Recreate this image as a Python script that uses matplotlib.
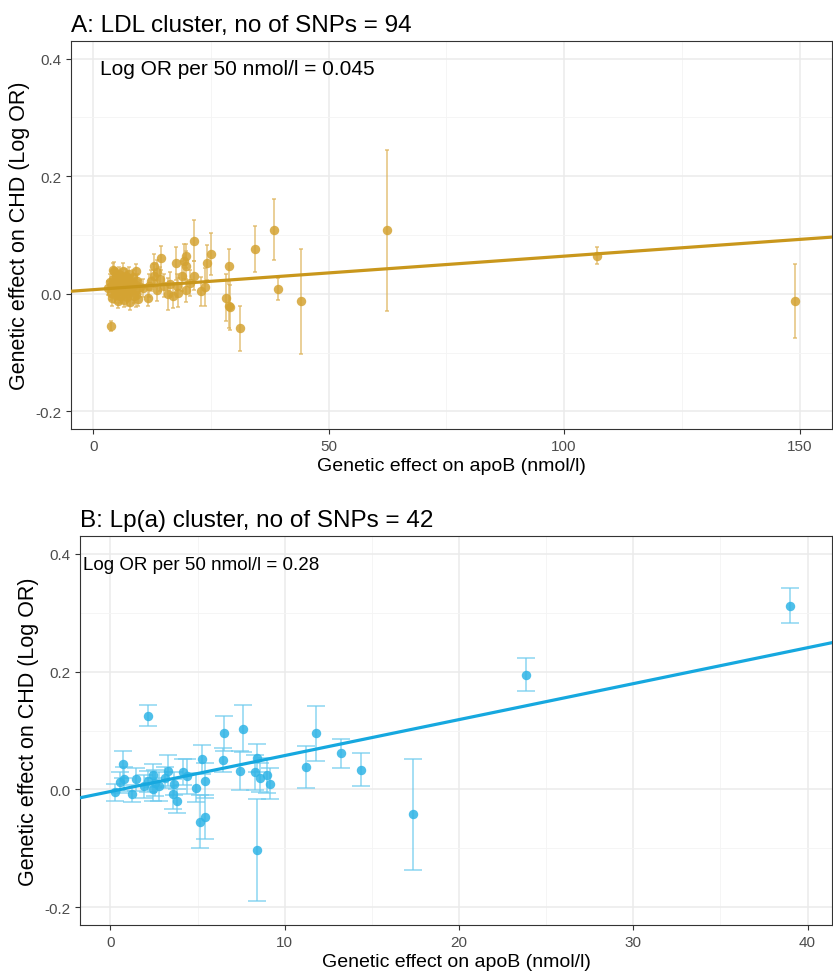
import matplotlib
matplotlib.use('Agg')
import matplotlib.pyplot as plt
from matplotlib.ticker import MultipleLocator

plt.rcParams['font.family'] = ['Liberation Sans', 'DejaVu Sans']

# Panel A: LDL cluster (94 SNPs) - effect on apoB, effect on CHD (log OR), SE of log OR
ldl_x = [149.0, 107.0, 62.4, 44.2, 39.2, 38.5, 34.4, 31.2, 28.9, 28.2,
         28.9, 29.1, 25.1, 24.2, 23.8, 23.0, 21.4, 21.4, 19.7, 19.3,
         19.7, 18.8, 17.6, 14.5, 13.0, 13.6, 13.0, 11.6, 9.2, 9.2,
         11.85, 13.6, 15.1, 15.8, 17.9, 18.1, 19.7, 16.3, 3.78, 4.5,
         12.2, 14.2, 17.0, 20.5, 10.5,
         3.2, 3.5, 3.8, 4.0, 4.1, 4.3, 4.4, 4.6, 4.7, 4.9,
         5.0, 5.1, 5.2, 5.3, 5.4, 5.5, 5.6, 5.7, 5.8, 5.9,
         6.0, 6.1, 6.2, 6.3, 6.4, 6.5, 6.6, 6.7, 6.8, 6.9,
         7.0, 7.1, 7.2, 7.3, 7.4, 7.5, 7.7, 7.8, 7.9, 8.0,
         8.2, 8.4, 8.6, 8.8, 9.0, 9.3, 9.6, 9.9, 4.2]
ldl_y = [-0.012, 0.065, 0.108, -0.013, 0.008, 0.109, 0.0755, -0.059, 0.048, -0.007,
         -0.021, -0.023, 0.068, 0.053, 0.012, 0.004, 0.090, 0.031, 0.064, 0.055,
         0.048, 0.030, 0.052, 0.061, 0.048, 0.037, 0.031, -0.007, -0.002, 0.039,
         0.014, 0.006, 0.014, 0.000, 0.014, 0.002, 0.006, 0.017, -0.055, 0.039,
         0.022, 0.025, -0.004, 0.018, 0.010,
         0.010, 0.020, 0.002, 0.015, -0.008, 0.025, 0.008, 0.018, -0.002, 0.030,
         0.012, 0.005, 0.022, -0.012, 0.016, 0.034, 0.008, 0.020, -0.004, 0.027,
         0.012, 0.001, 0.018, 0.038, 0.009, -0.010, 0.024, 0.014, 0.004, 0.030,
         0.019, -0.006, 0.010, 0.026, 0.002, 0.015, 0.033, 0.007, -0.014, 0.020,
         0.012, 0.028, -0.003, 0.016, 0.006, 0.022, -0.009, 0.012, 0.040]
ldl_se = [0.063, 0.014, 0.137, 0.090, 0.019, 0.052, 0.039, 0.038, 0.028, 0.040,
          0.038, 0.038, 0.036, 0.030, 0.032, 0.025, 0.035, 0.025, 0.020, 0.030,
          0.025, 0.025, 0.028, 0.020, 0.020, 0.020, 0.020, 0.014, 0.020, 0.012,
          0.020, 0.018, 0.020, 0.027, 0.020, 0.025, 0.020, 0.020, 0.009, 0.015,
          0.018, 0.020, 0.020, 0.022, 0.015,
          0.012, 0.014, 0.012, 0.010, 0.013, 0.015, 0.011, 0.012, 0.014, 0.013,
          0.010, 0.012, 0.014, 0.012, 0.011, 0.012, 0.010, 0.013, 0.012, 0.015,
          0.010, 0.011, 0.012, 0.014, 0.013, 0.012, 0.012, 0.010, 0.011, 0.013,
          0.012, 0.014, 0.011, 0.012, 0.013, 0.011, 0.013, 0.012, 0.014, 0.012,
          0.011, 0.013, 0.012, 0.011, 0.013, 0.012, 0.012, 0.012, 0.012]
ldl_intercept = 0.007
ldl_slope = 0.00057

# Panel B: Lp(a) cluster (42 SNPs)
lpa_x = [38.97, 23.83, 17.37, 11.82, 11.2, 13.2, 14.4, 8.43, 2.16, 6.49,
         7.59, 0.73, 5.27, 6.45, 8.43, 7.45, 8.31, 8.58, 9.0, 9.14,
         3.28, 4.16, 5.44, 4.93, 5.15, 5.44, 3.58, 3.81, 2.45, 2.53,
         2.45, 2.18, 1.22, 1.47, 0.8, 0.56, 0.23, 3.64, 1.9, 3.1,
         4.4, 2.8]
lpa_y = [0.312, 0.195, -0.042, 0.095, 0.038, 0.061, 0.033, -0.103, 0.125, 0.095,
         0.103, 0.043, 0.051, 0.050, 0.053, 0.032, 0.029, 0.020, 0.024, 0.010,
         0.032, 0.030, 0.015, 0.003, -0.055, -0.047, -0.008, -0.020, 0.024, 0.011,
         0.000, 0.014, -0.007, 0.017, 0.018, 0.012, -0.005, 0.010, 0.005, 0.020,
         0.022, 0.005]
lpa_se = [0.029, 0.028, 0.094, 0.046, 0.035, 0.024, 0.028, 0.087, 0.018, 0.030,
          0.040, 0.023, 0.025, 0.020, 0.024, 0.033, 0.030, 0.025, 0.030, 0.027,
          0.027, 0.022, 0.030, 0.025, 0.045, 0.037, 0.025, 0.020, 0.020, 0.022,
          0.020, 0.018, 0.015, 0.020, 0.020, 0.018, 0.015, 0.020, 0.020, 0.018,
          0.030, 0.025]
lpa_intercept = -0.0035
lpa_slope = 0.0061

panels = [
    dict(x=ldl_x, y=ldl_y, se=ldl_se, b0=ldl_intercept, b1=ldl_slope,
         title='A: LDL cluster, no of SNPs = 94', note='Log OR per 50 nmol/l = 0.045',
         pt='#D4A332', bar='#DDB45A', line='#C9971C', cap=1.6,
         rect=[71 / 833, 549 / 979, 761 / 833, 388 / 979],
         xlim=(-4.7, 156.9), major=50, minor=25, note_x=0.038, note_size=15),
    dict(x=lpa_x, y=lpa_y, se=lpa_se, b0=lpa_intercept, b1=lpa_slope,
         title='B: Lp(a) cluster, no of SNPs = 42', note='Log OR per 50 nmol/l = 0.28',
         pt='#2FB4E6', bar='#6FCBEE', line='#16A8DF', cap=6.5,
         rect=[80 / 833, 53 / 979, 752 / 833, 389 / 979],
         xlim=(-1.75, 41.4), major=10, minor=5, note_x=0.004, note_size=13.5),
]

fig = plt.figure(figsize=(8.33, 9.79), dpi=100)

for p in panels:
    ax = fig.add_axes(p['rect'])
    ax.set_xlim(*p['xlim'])
    ax.set_ylim(-0.23, 0.43)
    ax.xaxis.set_major_locator(MultipleLocator(p['major']))
    ax.xaxis.set_minor_locator(MultipleLocator(p['minor']))
    ax.yaxis.set_major_locator(MultipleLocator(0.2))
    ax.yaxis.set_minor_locator(MultipleLocator(0.1))
    ax.grid(which='major', color='#EBEBEB', linewidth=1.1)
    ax.grid(which='minor', color='#F4F4F4', linewidth=0.6)
    ax.set_axisbelow(True)
    for s in ax.spines.values():
        s.set_color('#333333')
        s.set_linewidth(0.8)
    ax.tick_params(which='major', length=3.5, width=0.8, color='#333333',
                   labelcolor='#4D4D4D', labelsize=11)
    ax.tick_params(which='minor', length=0)
    ax.yaxis.set_major_formatter(plt.FuncFormatter(lambda v, _: f'{v:.1f}'))

    ax.errorbar(p['x'], p['y'], yerr=p['se'], fmt='none', ecolor=p['bar'],
                elinewidth=1.1, capsize=p['cap'], capthick=1.1, alpha=0.8, zorder=2)
    ax.plot(p['x'], p['y'], 'o', color=p['pt'], markersize=6.8, alpha=0.85,
            markeredgewidth=0, zorder=3)
    ax.axline((0, p['b0']), slope=p['b1'], color=p['line'], linewidth=2.3, zorder=4)

    ax.text(p['note_x'], 0.928, p['note'], transform=ax.transAxes,
            fontsize=p['note_size'], ha='left', va='center', color='black')
    ax.set_title(p['title'], loc='left', fontsize=17.5, pad=7)
    ax.set_xlabel('Genetic effect on apoB (nmol/l)', fontsize=14, labelpad=3)
    ax.set_ylabel('Genetic effect on CHD (Log OR)', fontsize=15.5, labelpad=4)

fig.savefig('out.png', dpi=100)
